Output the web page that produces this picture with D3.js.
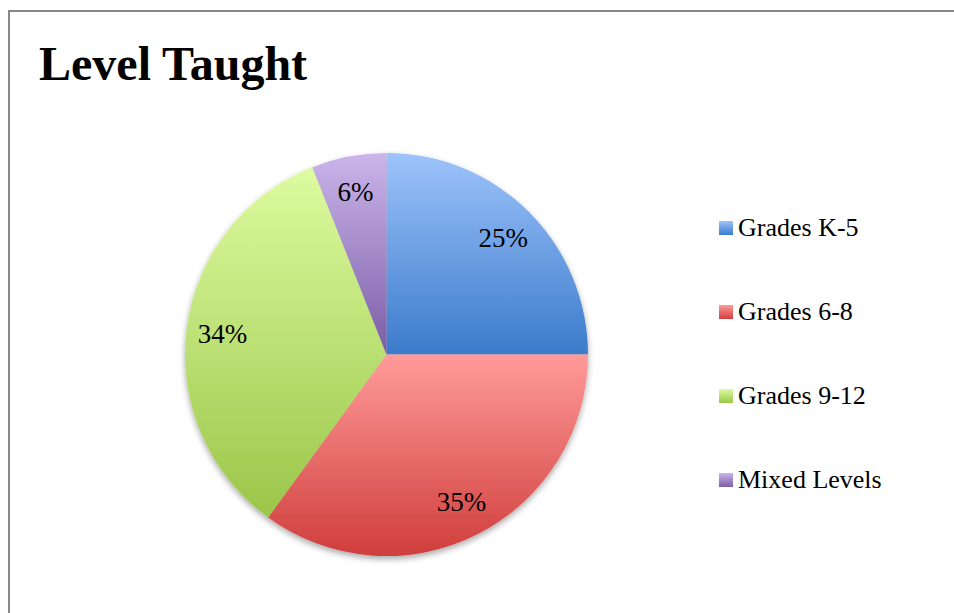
<html>
<head>
<script src="https://d3js.org/d3.v7.min.js"></script>
<style>
  body { margin: 0; background: #fff; }
  text { font-family: "Liberation Serif", "Times New Roman", serif; fill: #000; }
  .title { font-size: 48px; font-weight: bold; }
  .pct { font-size: 27px; text-anchor: middle; dominant-baseline: central; }
  .legend-label { font-size: 26px; }
</style>
</head>
<body>
<svg id="chart" width="954" height="613"></svg>
<script>
const categories = ["Grades K-5", "Grades 6-8", "Grades 9-12", "Mixed Levels"];
const values = [25, 35, 34, 6];
const topColors = ["#9dc3fa", "#ff9b99", "#ddfba0", "#cbb5ea"];
const bottomColors = ["#3b7bcc", "#cf3e3c", "#9bc649", "#7a5da6"];

const cx = 386.5, cy = 354.5, radius = 201.5;

const svg = d3.select("#chart");

// chart frame (right and bottom run off the page)
svg.append("rect")
  .attr("x", 9).attr("y", 11)
  .attr("width", 1000).attr("height", 700)
  .attr("fill", "#fff")
  .attr("stroke", "#888")
  .attr("stroke-width", 2);

svg.append("text")
  .attr("class", "title")
  .attr("x", 39).attr("y", 80)
  .text("Level Taught");

const defs = svg.append("defs");
categories.forEach(function(c, i) {
  const g = defs.append("linearGradient")
    .attr("id", "grad" + i)
    .attr("x1", 0).attr("y1", 0).attr("x2", 0).attr("y2", 1);
  g.append("stop").attr("offset", "0%").attr("stop-color", topColors[i]);
  g.append("stop").attr("offset", "100%").attr("stop-color", bottomColors[i]);
});

const shadow = defs.append("filter").attr("id", "shadow")
  .attr("x", "-10%").attr("y", "-10%").attr("width", "120%").attr("height", "125%");
shadow.append("feGaussianBlur").attr("in", "SourceAlpha").attr("stdDeviation", 3);
shadow.append("feOffset").attr("dx", 0).attr("dy", 3).attr("result", "off");
shadow.append("feComponentTransfer").append("feFuncA").attr("type", "linear").attr("slope", 0.35);
const merge = shadow.append("feMerge");
merge.append("feMergeNode");
merge.append("feMergeNode").attr("in", "SourceGraphic");

const data = categories.map(function(c, i) { return { name: c, value: values[i], idx: i }; });

const pie = d3.pie().sort(null).value(function(d) { return d.value; });
const arc = d3.arc().innerRadius(0).outerRadius(radius);
const labelArc = d3.arc().innerRadius(radius * 0.82).outerRadius(radius * 0.82);

const arcs = pie(data);

const pieG = svg.append("g")
  .attr("transform", `translate(${cx},${cy})`);

pieG.append("g")
  .attr("filter", "url(#shadow)")
  .selectAll("path")
  .data(arcs)
  .enter()
  .append("path")
  .attr("d", arc)
  .attr("fill", function(d) { return "url(#grad" + d.data.idx + ")"; });

pieG.selectAll(".pct")
  .data(arcs)
  .enter()
  .append("text")
  .attr("class", "pct")
  .attr("transform", function(d) { return `translate(${labelArc.centroid(d)})`; })
  .text(function(d) { return d.data.value + "%"; });

// legend
const legendY = d3.scalePoint().domain(categories).range([228, 480]);
const legend = svg.append("g");
legend.selectAll("rect")
  .data(data)
  .enter()
  .append("rect")
  .attr("x", 719)
  .attr("y", function(d) { return legendY(d.name) - 7; })
  .attr("width", 14).attr("height", 14)
  .attr("fill", function(d) { return "url(#grad" + d.idx + ")"; });
legend.selectAll("text")
  .data(data)
  .enter()
  .append("text")
  .attr("class", "legend-label")
  .attr("x", 738)
  .attr("y", function(d) { return legendY(d.name) + 8; })
  .text(function(d) { return d.name; });
</script>
</body>
</html>
